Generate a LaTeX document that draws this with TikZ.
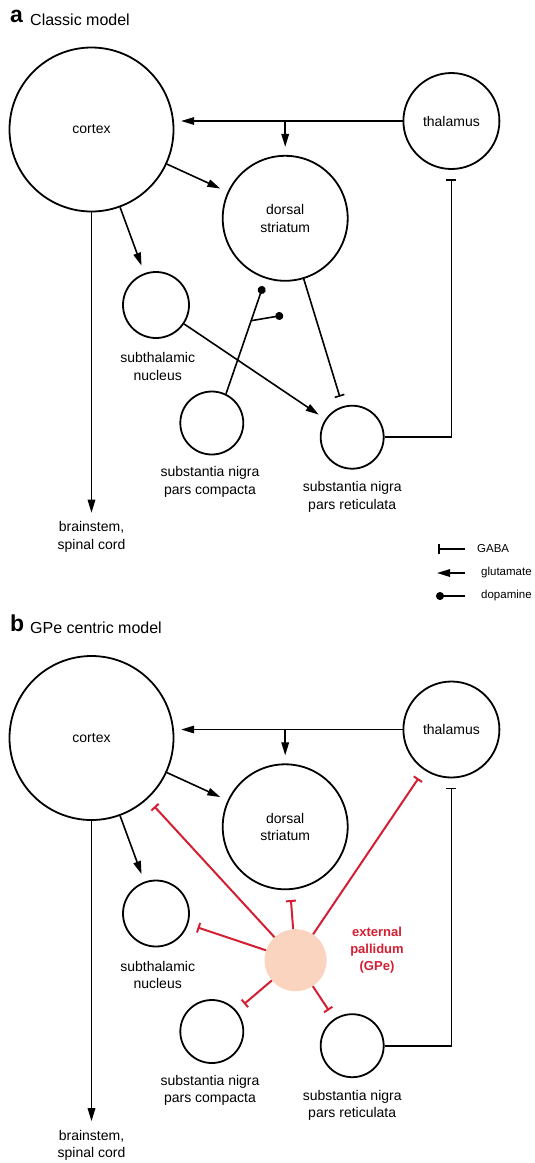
\documentclass[tikz,border=0pt]{standalone}
\usepackage{fontspec}
\setmainfont{Liberation Sans}
\usetikzlibrary{arrows.meta}

\definecolor{gpered}{HTML}{D41F33}
\definecolor{gpepeach}{HTML}{FBD4BF}

\begin{document}
\begin{tikzpicture}[x=1pt, y=-1pt,
    area/.style={draw, circle, line width=1.8pt, inner sep=0pt, align=center,
        font=\fontsize{14}{17.5}\selectfont},
    lbl/.style={align=center, inner sep=0pt, font=\fontsize{14}{17.5}\selectfont},
    legtext/.style={anchor=west, inner sep=0pt, font=\fontsize{11.5}{14}\selectfont},
    panel/.style={anchor=base west, inner sep=0pt, font=\fontsize{23}{23}\selectfont\bfseries},
    title/.style={anchor=base west, inner sep=0pt, font=\fontsize{16}{16}\selectfont},
    glu/.style={-{Triangle[length=13pt, width=7.5pt]}, line width=1.6pt, shorten >=8pt},
    gaba/.style={-{Bar[width=10pt]}, line width=1.6pt, shorten >=10pt},
    dopa/.style={-{Circle[length=8pt]}, line width=1.6pt},
    gpe/.style={gaba, draw=gpered, line width=2pt}]

        \useasboundingbox (0,0) rectangle (535,1163);

        % ==========================================
        % a. CLASSIC MODEL
        % ==========================================
        \node[panel] (a-letter) at (10,22.7) {a};
        \node[title] (a-title) at (30,25.3) {Classic model};

        % --- Aree ---
        \node[area, minimum size=164pt] (a-cortex) at (91.5,129.5) {cortex};
        \node[area, minimum size=96pt] (a-thalamus) at (451.4,121) {thalamus};
        \node[area, minimum size=125pt] (a-striatum) at (285.2,218.3) {dorsal\\striatum};
        \node[area, minimum size=66pt] (a-stn) at (156,305) {};
        \node[area, minimum size=63pt] (a-snc) at (211.8,423) {};
        \node[area, minimum size=63pt] (a-snr) at (352.2,437.2) {};

        \node[lbl] (a-stnlabel) at (157.7,366.3) {subthalamic\\nucleus};
        \node[lbl] (a-snclabel) at (210,482) {substantia nigra\\pars compacta};
        \node[lbl] (a-snrlabel) at (352.2,497) {substantia nigra\\pars reticulata};
        \node[lbl] (a-brainstem) at (91.5,536.7) {brainstem,\\spinal cord};

        % --- Glutammato ---
        \draw[glu, shorten >=6.7pt] (a-thalamus.west) -- (a-cortex.east |- a-thalamus.west);
        \draw[glu] (a-striatum.north |- a-thalamus.west) -- (a-striatum.north);
        \draw[glu] (a-cortex) -- (a-striatum);
        \draw[glu] (a-cortex) -- (a-stn);
        \draw[glu, shorten >=8.5pt] (a-cortex.south) -- (a-brainstem.north);
        \draw[glu] (a-stn) -- (a-snr);

        % --- GABA ---
        \draw[gaba] (a-striatum) -- (a-snr);
        \draw[gaba, shorten >=9.3pt] (a-snr.east) -| (a-thalamus.south);

        % --- Dopamina ---
        \coordinate (a-datip) at (263,286.2);
        \coordinate (a-datip2) at (283.2,315.3);
        \draw[dopa] (a-snc.64) -- (a-datip) coordinate[pos=0.68] (a-dafork);
        \draw[dopa] (a-dafork) -- (a-datip2);

        % --- Legenda ---
        \node[legtext] (lg-gaba) at (477,549) {GABA};
        \node[legtext] (lg-glu) at (481,573) {glutamate};
        \node[legtext] (lg-dopa) at (481,596) {dopamine};
        \coordinate (lg-gaba-a) at (465,549);
        \coordinate (lg-gaba-b) at (438,549);
        \coordinate (lg-glu-a) at (465,573);
        \coordinate (lg-glu-b) at (437,573);
        \coordinate (lg-dopa-a) at (465,596);
        \coordinate (lg-dopa-b) at (436,596);
        \draw[gaba, shorten >=0pt] (lg-gaba-a) -- (lg-gaba-b);
        \draw[glu, shorten >=0pt] (lg-glu-a) -- (lg-glu-b);
        \draw[dopa] (lg-dopa-a) -- (lg-dopa-b);

        % ==========================================
        % b. GPe CENTRIC MODEL
        % ==========================================
        \node[panel] (b-letter) at (10,631) {b};
        \node[title] (b-title) at (30,633) {GPe centric model};

        % --- Aree ---
        \node[area, minimum size=164pt] (b-cortex) at (91.5,738) {cortex};
        \node[area, minimum size=96pt] (b-thalamus) at (451.4,729.5) {thalamus};
        \node[area, minimum size=125pt] (b-striatum) at (285.2,826.8) {dorsal\\striatum};
        \node[area, minimum size=66pt] (b-stn) at (156,913.5) {};
        \node[area, minimum size=63pt] (b-snc) at (211.8,1031.5) {};
        \node[area, minimum size=63pt] (b-snr) at (352.2,1045.7) {};
        \node[circle, fill=gpepeach, minimum size=62pt, inner sep=0pt] (b-gpe) at (295.6,960.2) {};

        \node[lbl] (b-stnlabel) at (157.7,974.8) {subthalamic\\nucleus};
        \node[lbl] (b-snclabel) at (210,1090.5) {substantia nigra\\pars compacta};
        \node[lbl] (b-snrlabel) at (352.2,1105.5) {substantia nigra\\pars reticulata};
        \node[lbl] (b-brainstem) at (91.5,1145.2) {brainstem,\\spinal cord};
        \node[lbl, text=gpered, font=\fontsize{13}{17}\selectfont\bfseries] (b-gpelabel)
            at (377,950.3) {external\\pallidum\\(GPe)};

        % --- Glutammato ---
        \draw[glu, shorten >=6.7pt] (b-thalamus.west) -- (b-cortex.east |- b-thalamus.west);
        \draw[glu] (b-striatum.north |- b-thalamus.west) -- (b-striatum.north);
        \draw[glu] (b-cortex) -- (b-striatum);
        \draw[glu] (b-cortex) -- (b-stn);
        \draw[glu, shorten >=8.5pt] (b-cortex.south) -- (b-brainstem.north);

        % --- GABA ---
        \draw[gaba, shorten >=9.3pt] (b-snr.east) -| (b-thalamus.south);

        % --- Uscite del GPe (rosso) ---
        \draw[gpe] (b-gpe) -- (b-cortex);
        \draw[gpe] (b-gpe) -- (b-thalamus);
        \draw[gpe] (b-gpe) -- (b-striatum);
        \draw[gpe] (b-gpe) -- (b-stn);
        \draw[gpe] (b-gpe) -- (b-snc);
        \draw[gpe] (b-gpe) -- (b-snr);

    \end{tikzpicture}
\end{document}
